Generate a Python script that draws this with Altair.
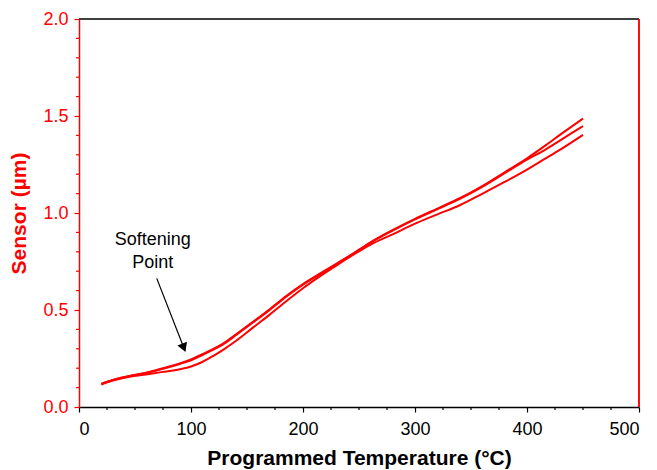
import altair as alt
import pandas as pd

# ---- data ----
temps = [20, 30, 45, 60, 75, 90, 100, 110, 120, 130, 140, 155, 170, 185, 200,
         215, 230, 245, 260, 280, 300, 320, 340, 360, 380, 400, 415, 430, 450]
run1 = [0.120, 0.140, 0.160, 0.177, 0.200, 0.225, 0.245, 0.272, 0.300, 0.332,
        0.374, 0.438, 0.503, 0.572, 0.634, 0.687, 0.739, 0.792, 0.848, 0.912,
        0.970, 1.023, 1.076, 1.139, 1.210, 1.282, 1.342, 1.405, 1.487]
run2 = [0.118, 0.138, 0.158, 0.175, 0.197, 0.222, 0.241, 0.268, 0.296, 0.328,
        0.370, 0.434, 0.499, 0.568, 0.630, 0.684, 0.737, 0.790, 0.846, 0.909,
        0.967, 1.020, 1.073, 1.135, 1.205, 1.275, 1.322, 1.376, 1.448]
run3 = [0.116, 0.136, 0.156, 0.168, 0.181, 0.195, 0.209, 0.232, 0.264, 0.300,
        0.340, 0.408, 0.475, 0.545, 0.612, 0.673, 0.730, 0.785, 0.836, 0.890,
        0.945, 0.993, 1.040, 1.099, 1.160, 1.224, 1.276, 1.328, 1.403]
series_names = ["Run 1", "Run 2", "Run 3"]

x_major = [0, 100, 200, 300, 400, 500]
x_minor = [25, 50, 75, 125, 150, 175, 225, 250, 275, 325, 350, 375, 425, 450, 475]
y_major = [0.0, 0.5, 1.0, 1.5, 2.0]
y_minor = [0.1, 0.2, 0.3, 0.4, 0.6, 0.7, 0.8, 0.9, 1.1, 1.2, 1.3, 1.4, 1.6, 1.7, 1.8, 1.9]

ann_text = ["Softening", "Point"]
ann_T = [65.8, 65.8]
ann_y = [0.861, 0.744]
arrow_T = [69.4]
arrow_y = [0.663]
arrow_T2 = [93.6]
arrow_y2 = [0.305]

RED = "#ff0000"
FONT = "Liberation Sans"
W, H = 560, 388

rows = []
for name, vals in zip(series_names, [run1, run2, run3]):
    for t, v in zip(temps, vals):
        rows.append({"T": t, "S": v, "run": name})
df = pd.DataFrame(rows)

x_scale = alt.Scale(domain=[0, 500], nice=False, zero=False)
y_scale = alt.Scale(domain=[0, 2.0], nice=False, zero=False)

x_axis = alt.Axis(
    values=x_major, tickSize=5, labelOverlap=False,
    grid=False, domainColor="black", tickColor="black", labelColor="black",
    labelFont=FONT, labelFontSize=18, labelPadding=8,
    title="Programmed Temperature (°C)", titleFont=FONT, titleFontSize=21,
    titleFontWeight="bold", titleColor="black", titlePadding=9,
    domainWidth=1.5, tickWidth=1.2,
)
y_axis = alt.Axis(
    values=y_major, format=".1f", tickSize=5, labelOverlap=False,
    grid=False, domainColor=RED, tickColor=RED, labelColor=RED,
    labelFont=FONT, labelFontSize=18, labelPadding=6,
    title="Sensor (µm)", titleFont=FONT, titleFontSize=21,
    titleFontWeight="bold", titleColor=RED, titlePadding=13,
    domainWidth=1.5, tickWidth=1.2,
)

lines = alt.Chart(df).mark_line(color=RED, strokeWidth=2, interpolate="monotone").encode(
    x=alt.X("T:Q", scale=x_scale, axis=x_axis),
    y=alt.Y("S:Q", scale=y_scale, axis=y_axis),
    detail="run:N",
)

xminor_df = pd.DataFrame({"T": x_minor})
x_minor_ticks = alt.Chart(xminor_df).mark_rule(color="black", strokeWidth=1.2).encode(
    x=alt.X("T:Q", scale=x_scale), y=alt.value(H), y2=alt.value(H + 3)
)
yminor_df = pd.DataFrame({"S": y_minor})
y_minor_ticks = alt.Chart(yminor_df).mark_rule(color=RED, strokeWidth=1.2).encode(
    y=alt.Y("S:Q", scale=y_scale), x=alt.value(-3), x2=alt.value(0)
)

ann_df = pd.DataFrame({"text": ann_text, "T": ann_T, "S": ann_y})
ann = alt.Chart(ann_df).mark_text(font=FONT, fontSize=18, color="black").encode(
    x=alt.X("T:Q", scale=x_scale), y=alt.Y("S:Q", scale=y_scale), text="text:N"
)

arr_df = pd.DataFrame({"T": arrow_T, "S": arrow_y, "T2": arrow_T2, "S2": arrow_y2})
arrow_line = alt.Chart(arr_df).mark_rule(color="black", strokeWidth=1.2).encode(
    x=alt.X("T:Q", scale=x_scale), y=alt.Y("S:Q", scale=y_scale),
    x2="T2:Q", y2="S2:Q",
)
arrow_head = alt.Chart(arr_df).mark_point(
    shape="triangle-down", filled=True, color="black", size=105, angle=338.5, opacity=1
).encode(x=alt.X("T2:Q", scale=x_scale), y=alt.Y("S2:Q", scale=y_scale))

top_border = alt.Chart(ann_df).mark_rule(color="#333333", strokeWidth=1.5).encode(
    x=alt.value(0), x2=alt.value(W), y=alt.value(0)
)
right_border = alt.Chart(ann_df).mark_rule(color=RED, strokeWidth=1.5).encode(
    x=alt.value(W), y=alt.value(0), y2=alt.value(H)
)

chart = alt.layer(top_border, right_border, x_minor_ticks, y_minor_ticks,
                  lines, arrow_line, arrow_head, ann).properties(
    width=W, height=H,
    autosize=alt.AutoSizeParams(type="none"),
    padding={"left": 71, "top": 11, "right": 10, "bottom": 62},
).configure_view(stroke=None)

chart.save("out.html", embed_options={"renderer": "svg", "actions": False})
